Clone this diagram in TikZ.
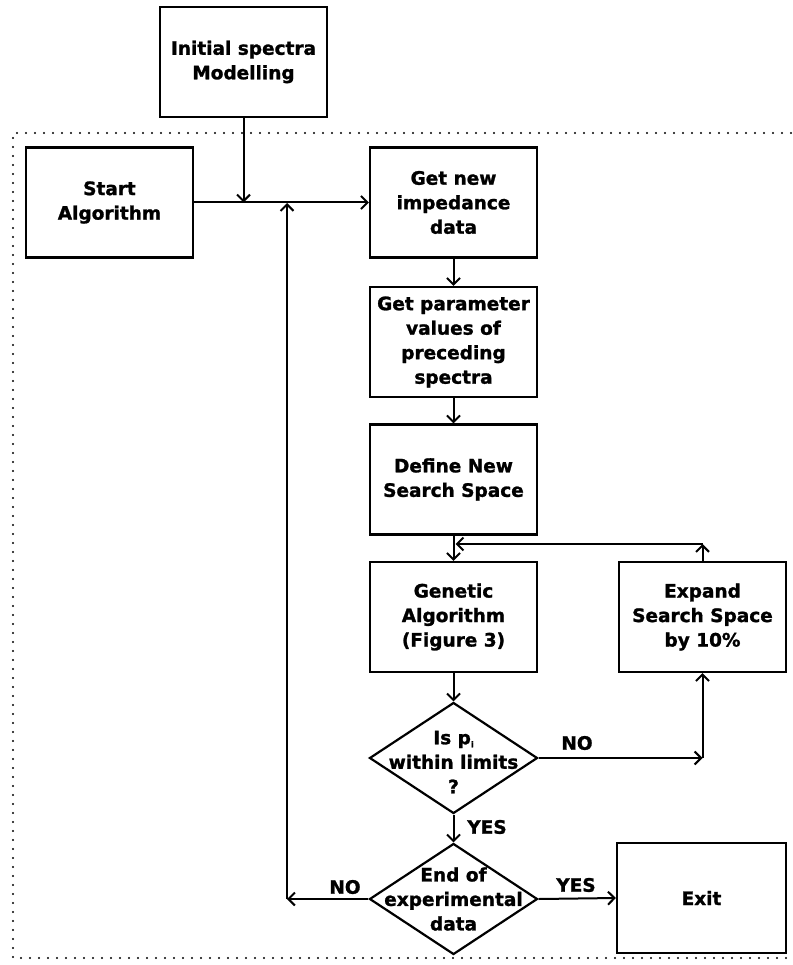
\documentclass[tikz,border=0pt]{standalone}
\usepackage{fontspec}
\setmainfont{DejaVu Sans}[BoldFeatures={FakeBold=1.3}]
\usetikzlibrary{arrows.meta,shapes.geometric}
\begin{document}
\begin{tikzpicture}[x=1pt,y=-1pt,
  box/.style={draw,line width=2.2pt,minimum width=167pt,minimum height=110pt,align=center,font=\fontsize{18.5}{24.5}\selectfont\bfseries,inner sep=0pt},
  dia/.style={draw,diamond,line width=2.2pt,minimum width=168pt,minimum height=111pt,inner sep=0pt},
  txt/.style={align=center,font=\fontsize{18.5}{24.5}\selectfont\bfseries,inner sep=0pt},
  arr/.style={line width=2pt,-{Straight Barb[length=6.5pt,width=13pt,line width=2pt]}},
  frame/.style={line width=2.4pt,dash pattern=on 0pt off 9pt,line cap=round}]
\useasboundingbox (0,0) rectangle (792,965);
\fill[white] (0,0) rectangle (792,965);
% dotted frame
\draw[frame] (800,133) -- (13,133) -- (13,958) -- (800,958);
% nodes
\node[box] (init) at (243.5,62) {Initial spectra\\Modelling};
\node[box] (start) at (109.5,202.5) {Start\\Algorithm};
\node[box] (getnew) at (453.5,202.5) {Get new\\impedance\\data};
\node[box] (getpar) at (453.5,342) {Get parameter\\values of\\preceding\\spectra};
\node[box] (def) at (453.5,479.5) {Define New\\Search Space};
\node[box] (gen) at (453.5,617) {Genetic\\Algorithm\\(Figure 3)};
\node[box] (exp) at (702.5,617) {Expand\\Search Space\\by 10\%};
\node[dia] (d1) at (453.5,758) {};
\node[txt] (d1t) at (453.5,762) {Is p\raisebox{-3pt}{\fontsize{8}{8}\selectfont i}\\within limits\\?};
\node[dia] (d2) at (453.5,899) {};
\node[txt] (d2t) at (453.5,899) {End of\\experimental\\data};
\node[box,minimum width=169pt] (exit) at (701.5,898) {Exit};
% labels
\node[txt] (lno1) at (577,743) {NO};
\node[txt] (lyes1) at (487,827) {YES};
\node[txt] (lno2) at (345,887) {NO};
\node[txt] (lyes2) at (576,885) {YES};
% helper coordinates
\coordinate (j1) at (init.south |- start.east);
\coordinate (j2) at (287,203);
\coordinate (c1) at (exp.south |- d1.east);
\coordinate (c2) at (exp.north |- 0,544);
\coordinate (j3) at (def.south |- c2);
\coordinate (c3) at (j2 |- d2.west);
% connectors
\draw[arr] (start.east) -- (getnew.west);
\draw[arr] (init.south) -- (j1);
\draw[arr] (getnew.south) -- (getpar.north);
\draw[arr] (getpar.south) -- (def.north);
\draw[arr] (def.south) -- (gen.north);
\draw[arr] (gen.south) -- (d1.north);
\draw[arr] (d1.east) -- (c1);
\draw[arr] (c1) -- (exp.south);
\draw[arr] (exp.north) -- (c2);
\draw[arr] (c2) -- ([xshift=2pt]j3);
\draw[arr] (d1.south) -- (d2.north);
\draw[arr] (d2.east) -- (exit.west);
\draw[arr] (d2.west) -- (c3);
\draw[arr] (c3) -- (j2);
\end{tikzpicture}
\end{document}
